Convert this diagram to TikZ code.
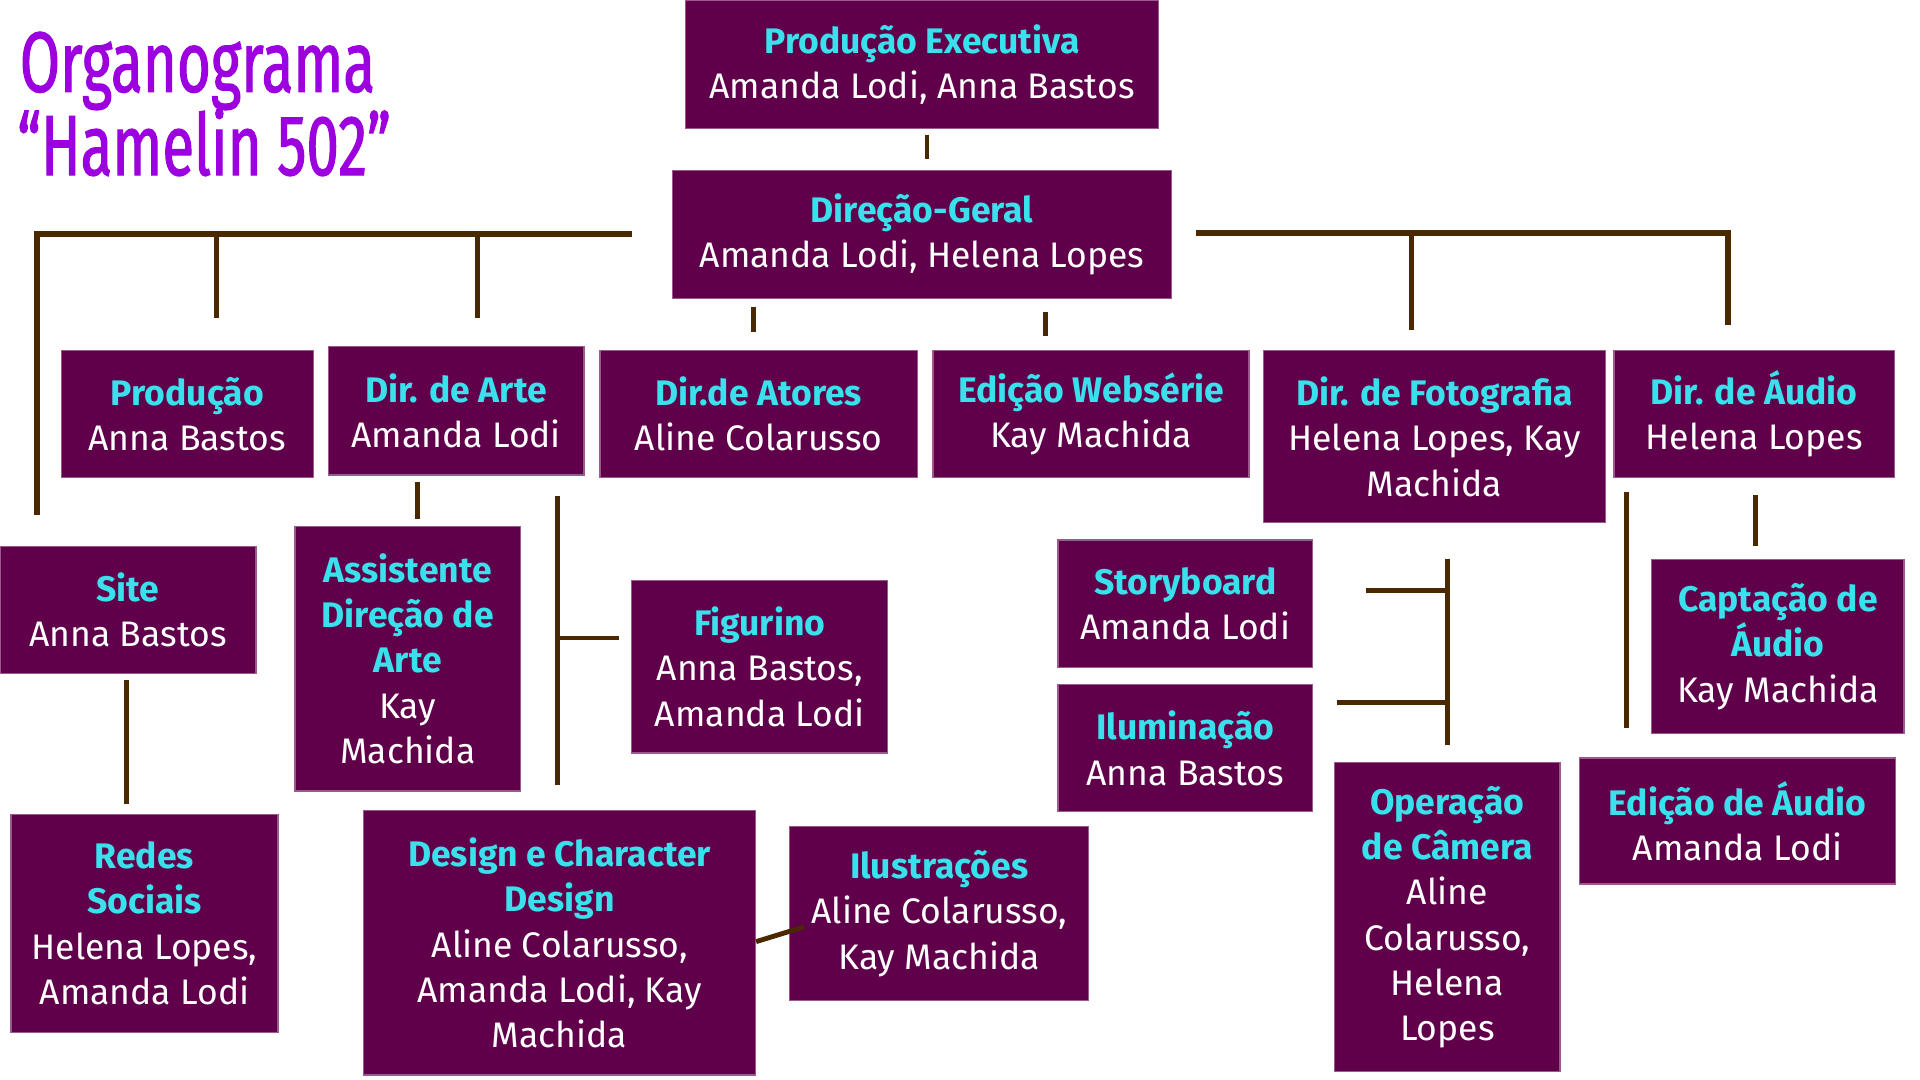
\documentclass[tikz,border=0pt]{standalone}
\usepackage{fontspec}
\setmainfont{Fira Sans}
\newfontfamily\titlefont{Fira Sans}[FakeStretch=0.68, FakeBold=1.2]
\newcommand{\roleName}[1]{\textcolor{headCyan}{\bfseries #1}}

\begin{document}
\begin{tikzpicture}[x=1pt, y=-1pt, font=\fontsize{29}{37}\selectfont,
  box/.style={fill=boxPlum, draw=boxEdge, line width=1pt, text=white,
    align=center, inner sep=0pt},
  link/.style={draw=linkBrown, line width=4pt},
  busLine/.style={link, line width=5pt}]
  \definecolor{boxPlum}{HTML}{60004B}
  \definecolor{boxEdge}{HTML}{9C5A8C}
  \definecolor{headCyan}{HTML}{38E1EC}
  \definecolor{titleViolet}{HTML}{9D00DF}
  \definecolor{linkBrown}{HTML}{4A2800}
  \useasboundingbox (0,0) rectangle (1568,882);

  \node[anchor=base west, inner sep=0pt, text=titleViolet,
    font=\titlefont\fontsize{70}{68}\selectfont] (orgTitle) at (16,75) {Organograma};
  \node[anchor=base west, inner sep=0pt, text=titleViolet,
    font=\titlefont\fontsize{70}{68}\selectfont] (orgName) at (14,143) {“Hamelin 502”};

  % top of the chart
  \node[box, minimum width=386, minimum height=105] (prodExec) at (753,52.5)
    {\roleName{Produção Executiva}\\Amanda Lodi, Anna Bastos};
  \node[box, minimum width=408, minimum height=105] (dirGeral) at (753,191.5)
    {\roleName{Direção-Geral}\\Amanda Lodi, Helena Lopes};

  % second row
  \node[box, minimum width=206, minimum height=104] (producao) at (153,338)
    {\roleName{Produção}\\Anna Bastos};
  \node[box, minimum width=209, minimum height=105] (dirArte) at (372.5,335.5)
    {\roleName{Dir. de Arte}\\Amanda Lodi};
  \node[box, minimum width=259, minimum height=104] (dirAtores) at (619.5,338)
    {\roleName{Dir.de Atores}\\Aline Colarusso};
  \node[box, minimum width=258, minimum height=104] (edWeb) at (891,338)
    {\roleName{Edição Websérie}\\Kay Machida};
  \node[box, minimum width=279, minimum height=141] (dirFoto) at (1171.5,356.5)
    {\roleName{Dir. de Fotografia}\\Helena Lopes, Kay\\Machida};
  \node[box, minimum width=229, minimum height=104] (dirAudio) at (1432.5,338)
    {\roleName{Dir. de Áudio}\\Helena Lopes};

  % teams
  \node[box, minimum width=209, minimum height=104] (site) at (104.5,498)
    {\roleName{Site}\\Anna Bastos};
  \node[box, minimum width=218, minimum height=178] (redes) at (118,754)
    {\roleName{Redes}\\\roleName{Sociais}\\Helena Lopes,\\Amanda Lodi};
  \node[box, minimum width=184, minimum height=216] (assistArte) at (333,538)
    {\roleName{Assistente}\\\roleName{Direção de}\\\roleName{Arte}\\Kay\\Machida};
  \node[box, minimum width=209, minimum height=141] (figurino) at (620.5,544.5)
    {\roleName{Figurino}\\Anna Bastos,\\Amanda Lodi};
  \node[box, minimum width=320, minimum height=216] (design) at (457,770)
    {\roleName{Design e Character}\\\roleName{Design}\\Aline Colarusso,\\Amanda Lodi, Kay\\Machida};
  \node[box, minimum width=244, minimum height=142] (ilustr) at (767,746)
    {\roleName{Ilustrações}\\Aline Colarusso,\\Kay Machida};
  \node[box, minimum width=208, minimum height=104] (story) at (968,493)
    {\roleName{Storyboard}\\Amanda Lodi};
  \node[box, minimum width=208, minimum height=104] (ilum) at (968,611)
    {\roleName{Iluminação}\\Anna Bastos};
  \node[box, minimum width=184, minimum height=252] (camera) at (1182,749)
    {\roleName{Operação}\\\roleName{de Câmera}\\Aline\\Colarusso,\\Helena\\Lopes};
  \node[box, minimum width=206, minimum height=142] (captAudio) at (1452,528)
    {\roleName{Captação de}\\\roleName{Áudio}\\Kay Machida};
  \node[box, minimum width=258, minimum height=103] (edAudio) at (1419,670.5)
    {\roleName{Edição de Áudio}\\Amanda Lodi};

  % connectors
  \coordinate (leftBus) at (516,191);
  \coordinate (rightBus) at (977,190);
  \draw[link] ([xshift=4pt,yshift=-5pt]prodExec.south) -- ([xshift=4pt,yshift=9pt]dirGeral.north);
  \draw[busLine] (leftBus) -| ([xshift=-74.5pt,yshift=25pt]site.north);
  \draw[link] ([xshift=24pt]producao.north |- leftBus) -- ([xshift=24pt,yshift=26pt]producao.north);
  \draw[link] ([xshift=17.5pt]dirArte.north |- leftBus) -- ([xshift=17.5pt,yshift=23pt]dirArte.north);
  \draw[busLine] (rightBus) -| ([xshift=-21.5pt,yshift=20pt]dirAudio.north);
  \draw[link] ([xshift=-18.5pt]dirFoto.north |- rightBus) -- ([xshift=-18.5pt,yshift=16pt]dirFoto.north);
  \draw[link] ([xshift=-4.5pt,yshift=35pt]dirAtores.north) -- ([xshift=-4.5pt,yshift=14pt]dirAtores.north);
  \draw[link] ([xshift=-37pt,yshift=31pt]edWeb.north) -- ([xshift=-37pt,yshift=11pt]edWeb.north);

  \draw[link] ([xshift=-1.5pt,yshift=-5pt]site.south) -- ([xshift=-15pt,yshift=8pt]redes.north);
  \draw[link] ([xshift=-31.5pt,yshift=-5pt]dirArte.south) -- ([xshift=8pt,yshift=6pt]assistArte.north);
  \draw[link] ([xshift=30pt,yshift=133pt]assistArte.east) -- ([xshift=30pt,yshift=-103pt]assistArte.east);
  \draw[link] ([xshift=30pt,yshift=17pt]assistArte.east) -- ([xshift=-10pt,yshift=23.5pt]figurino.west);
  \draw[link] ([yshift=1pt]design.east) -- ([xshift=12pt,yshift=-11pt]ilustr.west);

  \coordinate (storyTee) at ([xshift=43pt,yshift=11pt]story.east);
  \coordinate (ilumTee) at ([xshift=19pt,yshift=37pt]ilum.east);
  \draw[link] ([yshift=166pt]camera.north) -- ([yshift=14pt]camera.north);
  \draw[link] (storyTee) -- (storyTee -| camera.north);
  \draw[link] (ilumTee) -- (ilumTee -| camera.north);
  \draw[link] ([xshift=11pt,yshift=-11pt]dirAudio.south west) -- ([xshift=39pt,yshift=24pt]edAudio.north west);
  \draw[link] ([xshift=1.5pt,yshift=-14pt]dirAudio.south) -- ([xshift=-18pt,yshift=11pt]captAudio.north);
\end{tikzpicture}
\end{document}
